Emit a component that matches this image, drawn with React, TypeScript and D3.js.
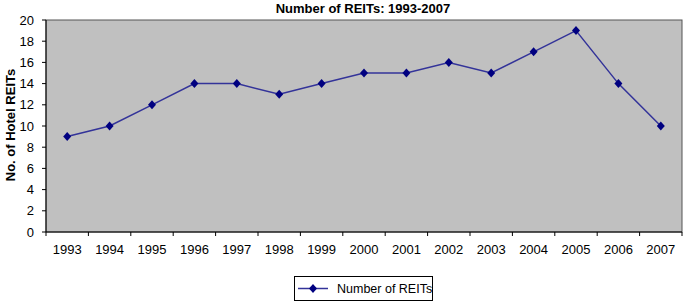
import React from "react";
import * as d3 from "d3";

const years = ["1993","1994","1995","1996","1997","1998","1999","2000","2001","2002","2003","2004","2005","2006","2007"];
const reits = [9, 10, 12, 14, 14, 13, 14, 15, 15, 16, 15, 17, 19, 14, 10];
const yTicks = [0, 2, 4, 6, 8, 10, 12, 14, 16, 18, 20];
const title = "Number of REITs: 1993-2007";
const yTitle = "No. of Hotel REITs";
const seriesName = "Number of REITs";

const W = 684, H = 303;
const L = 46, R = 682, T = 20, B = 232;
const FONT = "'Liberation Sans', Arial, sans-serif";

export default function App() {
  const x = d3.scaleBand<string>().domain(years).range([L, R]).paddingInner(0).paddingOuter(0);
  const y = d3.scaleLinear().domain([0, 20]).range([B, T]);
  const line = d3.line<number>().x((_, i) => x(years[i])! + x.bandwidth() / 2).y(d => y(d));
  const diamond = (cx: number, cy: number) => `M${cx},${cy - 4.5}L${cx + 4},${cy}L${cx},${cy + 4.5}L${cx - 4},${cy}Z`;
  const bounds = years.map(yr => x(yr)!).concat([R]);

  return (
    <svg width={W} height={H} style={{ position: "absolute", left: 0, top: 0 }} fontFamily={FONT}>
      <rect x={0} y={0} width={W} height={H} fill="#fff" />
      <rect x={L} y={T} width={R - L} height={B - T} fill="#c0c0c0" stroke="#555" strokeWidth={1} />
      <line x1={L} x2={L} y1={T} y2={B} stroke="#000" />
      <line x1={L} x2={R} y1={B} y2={B} stroke="#000" />
      {yTicks.map(t => (
        <g key={t}>
          <line x1={L - 4} x2={L} y1={y(t)} y2={y(t)} stroke="#000" />
          <text x={34} y={y(t)} dy="0.35em" textAnchor="end" fontSize={13} fill="#000">{t}</text>
        </g>
      ))}
      {bounds.map((bx, i) => (
        <line key={i} x1={bx} x2={bx} y1={B} y2={B + 4} stroke="#000" />
      ))}
      {years.map(yr => (
        <text key={yr} x={x(yr)! + x.bandwidth() / 2} y={254} textAnchor="middle" fontSize={13} fill="#000">{yr}</text>
      ))}
      <path d={line(reits)!} fill="none" stroke="#333399" strokeWidth={1.5} />
      {reits.map((v, i) => (
        <path key={i} d={diamond(x(years[i])! + x.bandwidth() / 2, y(v))} fill="#000080" />
      ))}
      <text x={363} y={13} textAnchor="middle" fontSize={13} fontWeight="bold" fill="#000">{title}</text>
      <text transform={`translate(15,125) rotate(-90)`} textAnchor="middle" fontSize={13} fontWeight="bold" fill="#000">{yTitle}</text>
      <rect x={294.5} y={276.5} width={138} height={24} fill="#fff" stroke="#000" />
      <line x1={298} x2={328} y1={288.5} y2={288.5} stroke="#333399" strokeWidth={1.5} />
      <path d={diamond(313, 288.5)} fill="#000080" />
      <text x={337} y={288.5} dy="0.35em" fontSize={12.5} fill="#000">{seriesName}</text>
    </svg>
  );
}
